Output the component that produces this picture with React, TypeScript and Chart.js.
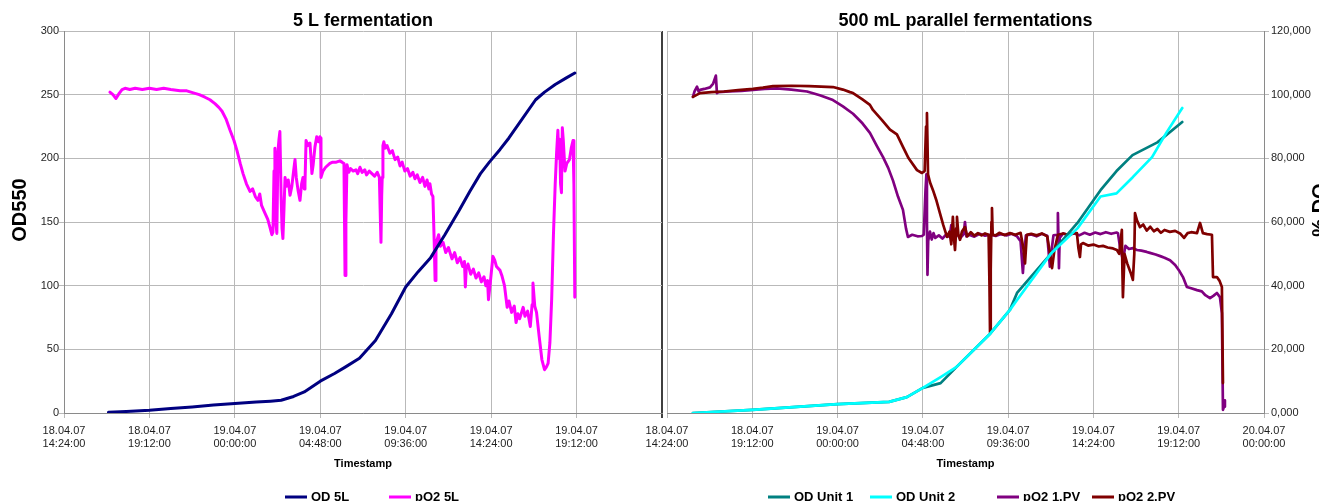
import { useEffect, useRef } from 'react';
import { Chart, registerables } from 'chart.js';

Chart.register(...registerables);

const FONT = "'Liberation Sans', Arial, Helvetica, sans-serif";
const W = 1319;
const H = 501;

// ---- axis ticks (hours since 18.04.07 14:24:00) ----
const tickHours = [0, 4.8, 9.6, 14.4, 19.2, 24, 28.8, 33.6];
const tickDates = ['18.04.07', '18.04.07', '19.04.07', '19.04.07', '19.04.07', '19.04.07', '19.04.07', '20.04.07'];
const tickTimes = ['14:24:00', '19:12:00', '00:00:00', '04:48:00', '09:36:00', '14:24:00', '19:12:00', '00:00:00'];
const leftYTicks = [0, 50, 100, 150, 200, 250, 300];
const rightYTicks = [0, 20, 40, 60, 80, 100, 120];

// ---- 5 L fermentation ----
const od5LHours = [2.5, 3.5, 4.8, 6.0, 7.2, 8.4, 9.6, 10.8, 11.6, 12.2, 12.9, 13.5, 14.4, 15.2, 15.8, 16.6, 17.5, 18.4, 19.2, 19.9, 20.6, 21.4, 22.2, 22.8, 23.4, 23.9, 24.5, 25.0, 25.6, 26.5, 27.0, 27.6, 28.2, 28.7];
const od5LValues = [0.5, 1.2, 2.2, 3.5, 4.8, 6.2, 7.5, 8.6, 9.3, 10, 13, 16.5, 25, 31, 36, 43, 57, 78, 99, 111, 122, 140, 159, 174, 188, 197, 207, 216, 228, 246, 252, 258, 263, 267];

const pO25LHours = [
  2.58, 2.75, 2.92, 3.1, 3.26, 3.43, 3.7, 4.0, 4.4, 4.8,
  5.2, 5.6, 6.0, 6.52, 6.9, 7.36, 7.6, 7.92, 8.2, 8.48,
  8.7, 8.88, 9.1, 9.33, 9.55, 9.72, 9.9, 10.06, 10.25, 10.45,
  10.6, 10.75, 10.9, 11.0, 11.1, 11.29, 11.45, 11.57, 11.68, 11.74,
  11.8, 11.85, 11.9, 11.96, 12.02, 12.08, 12.13, 12.2, 12.25, 12.3,
  12.36, 12.42, 12.5, 12.6, 12.7, 12.8, 12.9, 12.98, 13.05, 13.15,
  13.26, 13.35, 13.43, 13.5, 13.54, 13.6, 13.7, 13.82, 13.88, 13.93,
  14.0, 14.1, 14.2, 14.3, 14.38, 14.42, 14.44, 14.55, 14.7, 14.94,
  15.1, 15.3, 15.5, 15.62, 15.73, 15.79, 15.84, 15.9, 16.0, 16.1,
  16.25, 16.4, 16.5, 16.63, 16.75, 16.9, 17.0, 17.15, 17.3, 17.45,
  17.6, 17.72, 17.78, 17.81, 17.85, 17.88, 17.92, 17.97, 18.05, 18.15,
  18.31, 18.45, 18.6, 18.75, 18.88, 19.0, 19.15, 19.3, 19.45, 19.6,
  19.72, 19.85, 20.0, 20.15, 20.28, 20.4, 20.5, 20.56, 20.65, 20.73,
  20.8, 20.85, 20.9, 20.96, 21.05, 21.15, 21.3, 21.45, 21.6, 21.8,
  21.95, 22.1, 22.25, 22.4, 22.5, 22.55, 22.6, 22.7, 22.85, 23.0,
  23.15, 23.3, 23.45, 23.6, 23.7, 23.8, 23.85, 23.95, 24.1, 24.2,
  24.3, 24.5, 24.6, 24.75, 24.9, 25.0, 25.15, 25.3, 25.4, 25.5,
  25.6, 25.8, 25.9, 26.05, 26.2, 26.3, 26.35, 26.45, 26.55, 26.7,
  26.85, 27.0, 27.1, 27.2, 27.3, 27.4, 27.5, 27.6, 27.68, 27.75,
  27.8, 27.85, 27.9, 27.95, 28.0, 28.05, 28.15, 28.25, 28.4, 28.5,
  28.6, 28.65, 28.7,
];
const pO25LValues = [
  252, 250, 247, 251, 254, 255, 254, 255, 254, 255,
  254, 255, 254, 253, 253, 251, 250, 248, 246, 243,
  240, 237, 231, 222, 214, 206, 196, 188, 180, 174,
  176, 170, 167, 172, 163, 157, 152, 146, 140, 142,
  190, 208, 150, 141, 205, 215, 221, 170, 145, 137,
  160, 185, 178, 183, 171, 178, 190, 199, 185, 175,
  167, 180, 185, 176, 180, 214, 210, 212, 200, 188,
  195, 209, 217, 213, 217, 216, 185, 190, 193, 196,
  197, 197, 198, 197, 196, 108, 150, 195, 189, 192,
  190, 191, 188, 193, 189, 191, 187, 190, 188, 186,
  189, 185, 150, 134, 170, 185, 210, 213, 208, 210,
  204, 206, 199, 201, 194, 197, 190, 192, 186, 189,
  184, 187, 181, 185, 178, 183, 176, 180, 172, 170,
  135, 104, 130, 136, 140, 131, 134, 126, 130, 121,
  126, 118, 122, 115, 119, 99, 113, 117, 109, 113,
  106, 110, 103, 107, 100, 104, 89, 102, 123, 120,
  115, 112, 108, 100, 83, 88, 79, 84, 71, 78,
  74, 83, 76, 80, 68, 85, 102, 84, 79, 60,
  42, 34, 36, 39, 55, 89, 140, 180, 205, 222,
  200, 215, 180, 173, 224, 215, 190, 196, 199, 208,
  214, 180, 91,
];

// ---- 500 mL parallel fermentations ----
const odUnit1Hours = [1.46, 4.8, 9.6, 12.5, 13.5, 14.4, 15.4, 16.3, 18.2, 19.3, 19.7, 21.6, 23.1, 24.4, 25.3, 26.2, 27.6, 29.0];
const odUnit1Values = [0, 1, 2.8, 3.5, 5, 7.9, 9.4, 14.5, 25, 32.4, 37.7, 50, 59.7, 70, 76, 81, 85, 91.4];

const odUnit2Hours = [1.46, 4.8, 9.6, 12.5, 13.5, 14.4, 15.4, 16.3, 18.2, 19.3, 19.7, 21.6, 23.1, 24.4, 25.3, 26.2, 27.3, 28.1, 29.0];
const odUnit2Values = [0, 1, 2.8, 3.5, 5, 7.9, 11.3, 14.5, 25, 32.4, 35.5, 50, 58, 68, 69, 74, 80.4, 88, 95.8];

const pO21Hours = [
  1.46, 1.55, 1.69, 1.78, 1.86, 2.1, 2.42, 2.6, 2.75, 2.81,
  2.9, 3.5, 4.2, 4.84, 5.5, 6.19, 7.0, 7.88, 8.6, 9.34,
  9.9, 10.47, 11.0, 11.42, 11.8, 12.16, 12.45, 12.72, 13.0, 13.28,
  13.45, 13.56, 13.8, 14.1, 14.35, 14.45, 14.55, 14.6, 14.63, 14.66,
  14.7, 14.8, 14.9, 15.0, 15.1, 15.3, 15.5, 15.7, 15.9, 16.0,
  16.1, 16.3, 16.5, 16.7, 16.77, 16.85, 17.0, 17.3, 17.6, 17.9,
  18.2, 18.5, 18.8, 19.1, 19.4, 19.7, 19.9, 20.03, 20.1, 20.2,
  20.5, 20.8, 21.1, 21.4, 21.55, 21.62, 21.75, 21.95, 22.0, 22.03,
  22.06, 22.1, 22.3, 22.6, 22.9, 23.2, 23.5, 23.8, 24.1, 24.4,
  24.7, 25.0, 25.3, 25.38, 25.5, 25.66, 25.8, 26.0, 26.22, 26.45,
  26.7, 27.0, 27.18, 27.5, 27.8, 28.0, 28.31, 28.6, 28.85, 29.04,
  29.26, 29.5, 29.83, 30.1, 30.3, 30.56, 30.75, 30.95, 31.12, 31.23,
  31.29, 31.35, 31.4,
];
const pO21Values = [
  99.3, 101, 102.5, 101, 101.5, 101.8, 102.3, 103.5, 106, 100.5,
  100.8, 101, 101.2, 101.5, 101.8, 102, 101.6, 101, 99.8, 98.3,
  96.3, 94, 91, 88, 84, 80.4, 77, 73, 68, 63.8,
  58, 55.3, 56, 55.5, 55.6, 56, 70, 75, 60, 43.4,
  54, 57, 54.5, 56.5, 55, 55.8, 54.8, 56, 55.3, 59,
  55, 56.3, 54.9, 56.2, 60, 55.5, 56, 55.4, 56.3, 55.7,
  56, 55.6, 56.2, 55.8, 56.3, 55.5, 54, 44, 50, 55.8,
  56.1, 55.5, 56.3, 55.7, 46, 50, 55.8, 56, 62.8, 55,
  45.5, 55, 56.4, 55.9, 56.5, 55.8, 56.6, 56, 56.7, 56.2,
  56.8, 56.3, 56.7, 56.5, 52, 48, 52.5, 51.5, 51.8, 51.2,
  51, 50.6, 50.3, 49.8, 49.2, 48.8, 48, 46.5, 44.5, 42.7,
  39.6, 39.2, 38.6, 38.2, 37, 36.1, 36.8, 37.7, 36.4, 31.4,
  1, 2, 4,
];

const pO22Hours = [
  1.46, 1.86, 2.5, 3.2, 4.0, 4.84, 5.4, 5.97, 7.0, 8.0,
  9.34, 9.9, 10.3, 10.47, 11.0, 11.42, 11.59, 12.1, 12.55, 12.94,
  13.28, 13.6, 14.07, 14.35, 14.5, 14.58, 14.63, 14.66, 14.69, 14.8,
  14.97, 15.15, 15.36, 15.55, 15.76, 15.9, 16.0, 16.09, 16.15, 16.21,
  16.28, 16.32, 16.4, 16.49, 16.6, 16.77, 16.9, 17.1, 17.3, 17.5,
  17.7, 17.9, 18.1, 18.15, 18.18, 18.22, 18.26, 18.29, 18.33, 18.5,
  18.7, 19.0, 19.3, 19.6, 19.9, 20.05, 20.15, 20.25, 20.5, 20.8,
  21.1, 21.4, 21.55, 21.67, 21.8, 22.0, 22.3, 22.6, 22.9, 23.07,
  23.15, 23.24, 23.3, 23.41, 23.7, 24.0, 24.3, 24.54, 24.8, 25.1,
  25.32, 25.45, 25.6, 25.63, 25.66, 25.75, 25.9, 26.1, 26.22, 26.3,
  26.34, 26.45, 26.62, 26.8, 27.0, 27.2, 27.4, 27.6, 27.8, 28.0,
  28.3, 28.6, 28.9, 29.1, 29.3, 29.5, 29.83, 30.0, 30.16, 30.4,
  30.67, 30.73, 30.95, 31.1, 31.23, 31.29,
];
const pO22Values = [
  99.3, 100.5, 100.8, 101, 101.4, 101.8, 102.2, 102.7, 102.8, 102.7,
  102.4, 101.6, 100.8, 100.5, 98.5, 96.8, 95.2, 92, 89, 87.5,
  83.6, 80, 76.3, 75.4, 76, 90, 94.2, 85, 75, 72.5,
  70, 67, 62.8, 59, 55.3, 57, 53, 61.6, 55, 51.2,
  58, 61.6, 56, 54.4, 57, 58.4, 55.5, 56.8, 55.7, 56.5,
  55.8, 56.4, 56, 40, 25.4, 45, 60, 64.4, 56, 55.8,
  56.6, 55.9, 56.5, 56, 56.6, 52, 47, 56, 56.3, 55.8,
  56.4, 55.5, 50.3, 45.5, 51, 56, 56.4, 55.9, 56.5, 56.5,
  52, 49, 53, 53.4, 52.6, 52.9, 52.3, 52.5, 52, 51.7,
  51.2, 50, 57.5, 45, 36.4, 50, 47, 44, 41.8, 50,
  62.8, 60.5, 58.4, 59.2, 57.3, 58.5, 57.1, 57.8, 56.6, 57.5,
  56.9, 57.2, 56.3, 55, 56.5, 56.8, 56.5, 59.7, 56.5, 56.2,
  56, 42.7, 42.7, 41.5, 39.6, 9.4,
];

// ---- styles ----
const GRID = '#b9b9b9';
const AXIS = '#8a8a8a';
const TICK_TEXT = '#1e1e1e';

const toPoints = (xs: number[], ys: number[]) => xs.map((x, i) => ({ x, y: ys[i] }));

function lineDataset(label: string, xs: number[], ys: number[], color: string, width: number, order: number) {
  return {
    label,
    data: toPoints(xs, ys),
    borderColor: color,
    backgroundColor: color,
    borderWidth: width,
    pointRadius: 0,
    tension: 0,
    fill: false,
    borderJoinStyle: 'round',
    borderCapStyle: 'round',
    order,
  };
}

function xScale(showLast: boolean, darkLast: boolean) {
  const last = tickHours.length - 1;
  return {
    type: 'linear',
    min: tickHours[0],
    max: tickHours[last],
    afterBuildTicks: (s: any) => {
      s.ticks = tickHours.map((v) => ({ value: v }));
    },
    afterFit: (s: any) => {
      s.height = 88;
    },
    ticks: {
      autoSkip: false,
      maxRotation: 0,
      minRotation: 0,
      padding: 6,
      color: TICK_TEXT,
      font: { family: FONT, size: 11, lineHeight: 1.2 },
      callback: (_v: any, i: number) => (!showLast && i === last ? '' : [tickDates[i], tickTimes[i]]),
    },
    grid: {
      color: (c: any) => (darkLast && c.index === last ? '#3f3f3f' : GRID),
      lineWidth: (c: any) => (darkLast && c.index === last ? 2 : 1),
      tickLength: 5,
    },
    border: { display: true, color: AXIS, width: 1 },
    title: {
      display: true,
      text: 'Timestamp',
      color: '#000',
      font: { family: FONT, size: 11, weight: 'bold' },
      padding: { top: 0, bottom: 30 },
    },
  };
}

function yScale(ticks: number[], position: string, width: number, fmt: (v: number) => string) {
  return {
    type: 'linear',
    position,
    min: ticks[0],
    max: ticks[ticks.length - 1],
    afterBuildTicks: (s: any) => {
      s.ticks = ticks.map((v) => ({ value: v }));
    },
    afterFit: (s: any) => {
      s.width = width;
    },
    ticks: {
      padding: position === 'left' ? 0 : 2,
      color: TICK_TEXT,
      font: { family: FONT, size: 11 },
      callback: (v: any) => fmt(Number(v)),
    },
    grid: { color: GRID, lineWidth: 1, tickLength: 5 },
    border: { display: true, color: AXIS, width: 1 },
    title: { display: false },
  };
}

function verticalTitlePlugin(id: string, text: string, x: number, y: number) {
  return {
    id,
    afterDraw(chart: any) {
      const ctx = chart.ctx;
      ctx.save();
      ctx.translate(x, y);
      ctx.rotate(-Math.PI / 2);
      ctx.font = `bold 20px ${FONT}`;
      ctx.fillStyle = '#000';
      ctx.textAlign = 'center';
      ctx.textBaseline = 'alphabetic';
      ctx.fillText(text, 0, 0);
      ctx.restore();
    },
  };
}

function legendPlugin(id: string, starts: number[], legendOrder: number[]) {
  return {
    id,
    afterDraw(chart: any) {
      const ctx = chart.ctx;
      ctx.save();
      ctx.font = `bold 13px ${FONT}`;
      ctx.textBaseline = 'middle';
      ctx.textAlign = 'left';
      legendOrder.forEach((dsIndex, k) => {
        const ds = chart.data.datasets[dsIndex];
        const x0 = starts[k];
        ctx.fillStyle = ds.borderColor;
        ctx.fillRect(x0, 495.5, 22, 3);
        ctx.fillStyle = '#000';
        ctx.fillText(ds.label, x0 + 26, 497);
      });
      ctx.restore();
    },
  };
}

function titleOpts(text: string) {
  return {
    display: true,
    text,
    color: '#000',
    fullSize: false,
    font: { family: FONT, size: 18, weight: 'bold', lineHeight: 1 },
    padding: { top: 12, bottom: 1 },
  };
}

export default function App() {
  const leftRef = useRef<HTMLCanvasElement>(null);
  const rightRef = useRef<HTMLCanvasElement>(null);

  useEffect(() => {
    if (!leftRef.current || !rightRef.current) return;

    const left = new Chart(leftRef.current, {
      type: 'line',
      data: {
        datasets: [
          lineDataset('OD 5L', od5LHours, od5LValues, '#000080', 3, 0),
          lineDataset('pO2 5L', pO25LHours, pO25LValues, '#ff00ff', 3, 1),
        ],
      },
      options: {
        animation: false,
        responsive: false,
        events: [],
        layout: { padding: { left: 0, right: W - 662, top: 0, bottom: 0 } },
        scales: {
          x: xScale(false, true),
          y: yScale(leftYTicks, 'left', 64, (v) => String(v)),
        },
        plugins: {
          legend: { display: false },
          tooltip: { enabled: false },
          title: titleOpts('5 L fermentation'),
        },
      } as any,
      plugins: [
        verticalTitlePlugin('leftYTitle', 'OD550', 26, 210),
        legendPlugin('leftLegend', [285, 389], [0, 1]),
      ],
    } as any);

    const right = new Chart(rightRef.current, {
      type: 'line',
      data: {
        datasets: [
          lineDataset('OD Unit 1', odUnit1Hours, odUnit1Values, '#008080', 2.7, 1),
          lineDataset('OD Unit 2', odUnit2Hours, odUnit2Values, '#00ffff', 2.7, 0),
          lineDataset('pO2 1.PV', pO21Hours, pO21Values, '#800080', 2.7, 3),
          lineDataset('pO2 2.PV', pO22Hours, pO22Values, '#800000', 2.7, 2),
        ],
      },
      options: {
        animation: false,
        responsive: false,
        events: [],
        layout: { padding: { left: 667, right: 0, top: 0, bottom: 0 } },
        scales: {
          x: xScale(true, false),
          y: yScale(rightYTicks, 'right', W - 1264, (v) => v.toFixed(3).replace('.', ',')),
        },
        plugins: {
          legend: { display: false },
          tooltip: { enabled: false },
          title: titleOpts('500 mL parallel fermentations'),
        },
      } as any,
      plugins: [
        verticalTitlePlugin('rightYTitle', '% DO', 1326, 210),
        legendPlugin('rightLegend', [768, 870, 997, 1092], [0, 1, 2, 3]),
      ],
    } as any);

    return () => {
      left.destroy();
      right.destroy();
    };
  }, []);

  const canvasStyle = { position: 'absolute' as const, left: 0, top: 0, width: W, height: H, display: 'block' };

  return (
    <div style={{ position: 'absolute', left: 0, top: 0, width: W, height: H, background: '#fff', overflow: 'hidden' }}>
      <canvas ref={leftRef} width={W} height={H} style={canvasStyle} />
      <canvas ref={rightRef} width={W} height={H} style={canvasStyle} />
    </div>
  );
}
